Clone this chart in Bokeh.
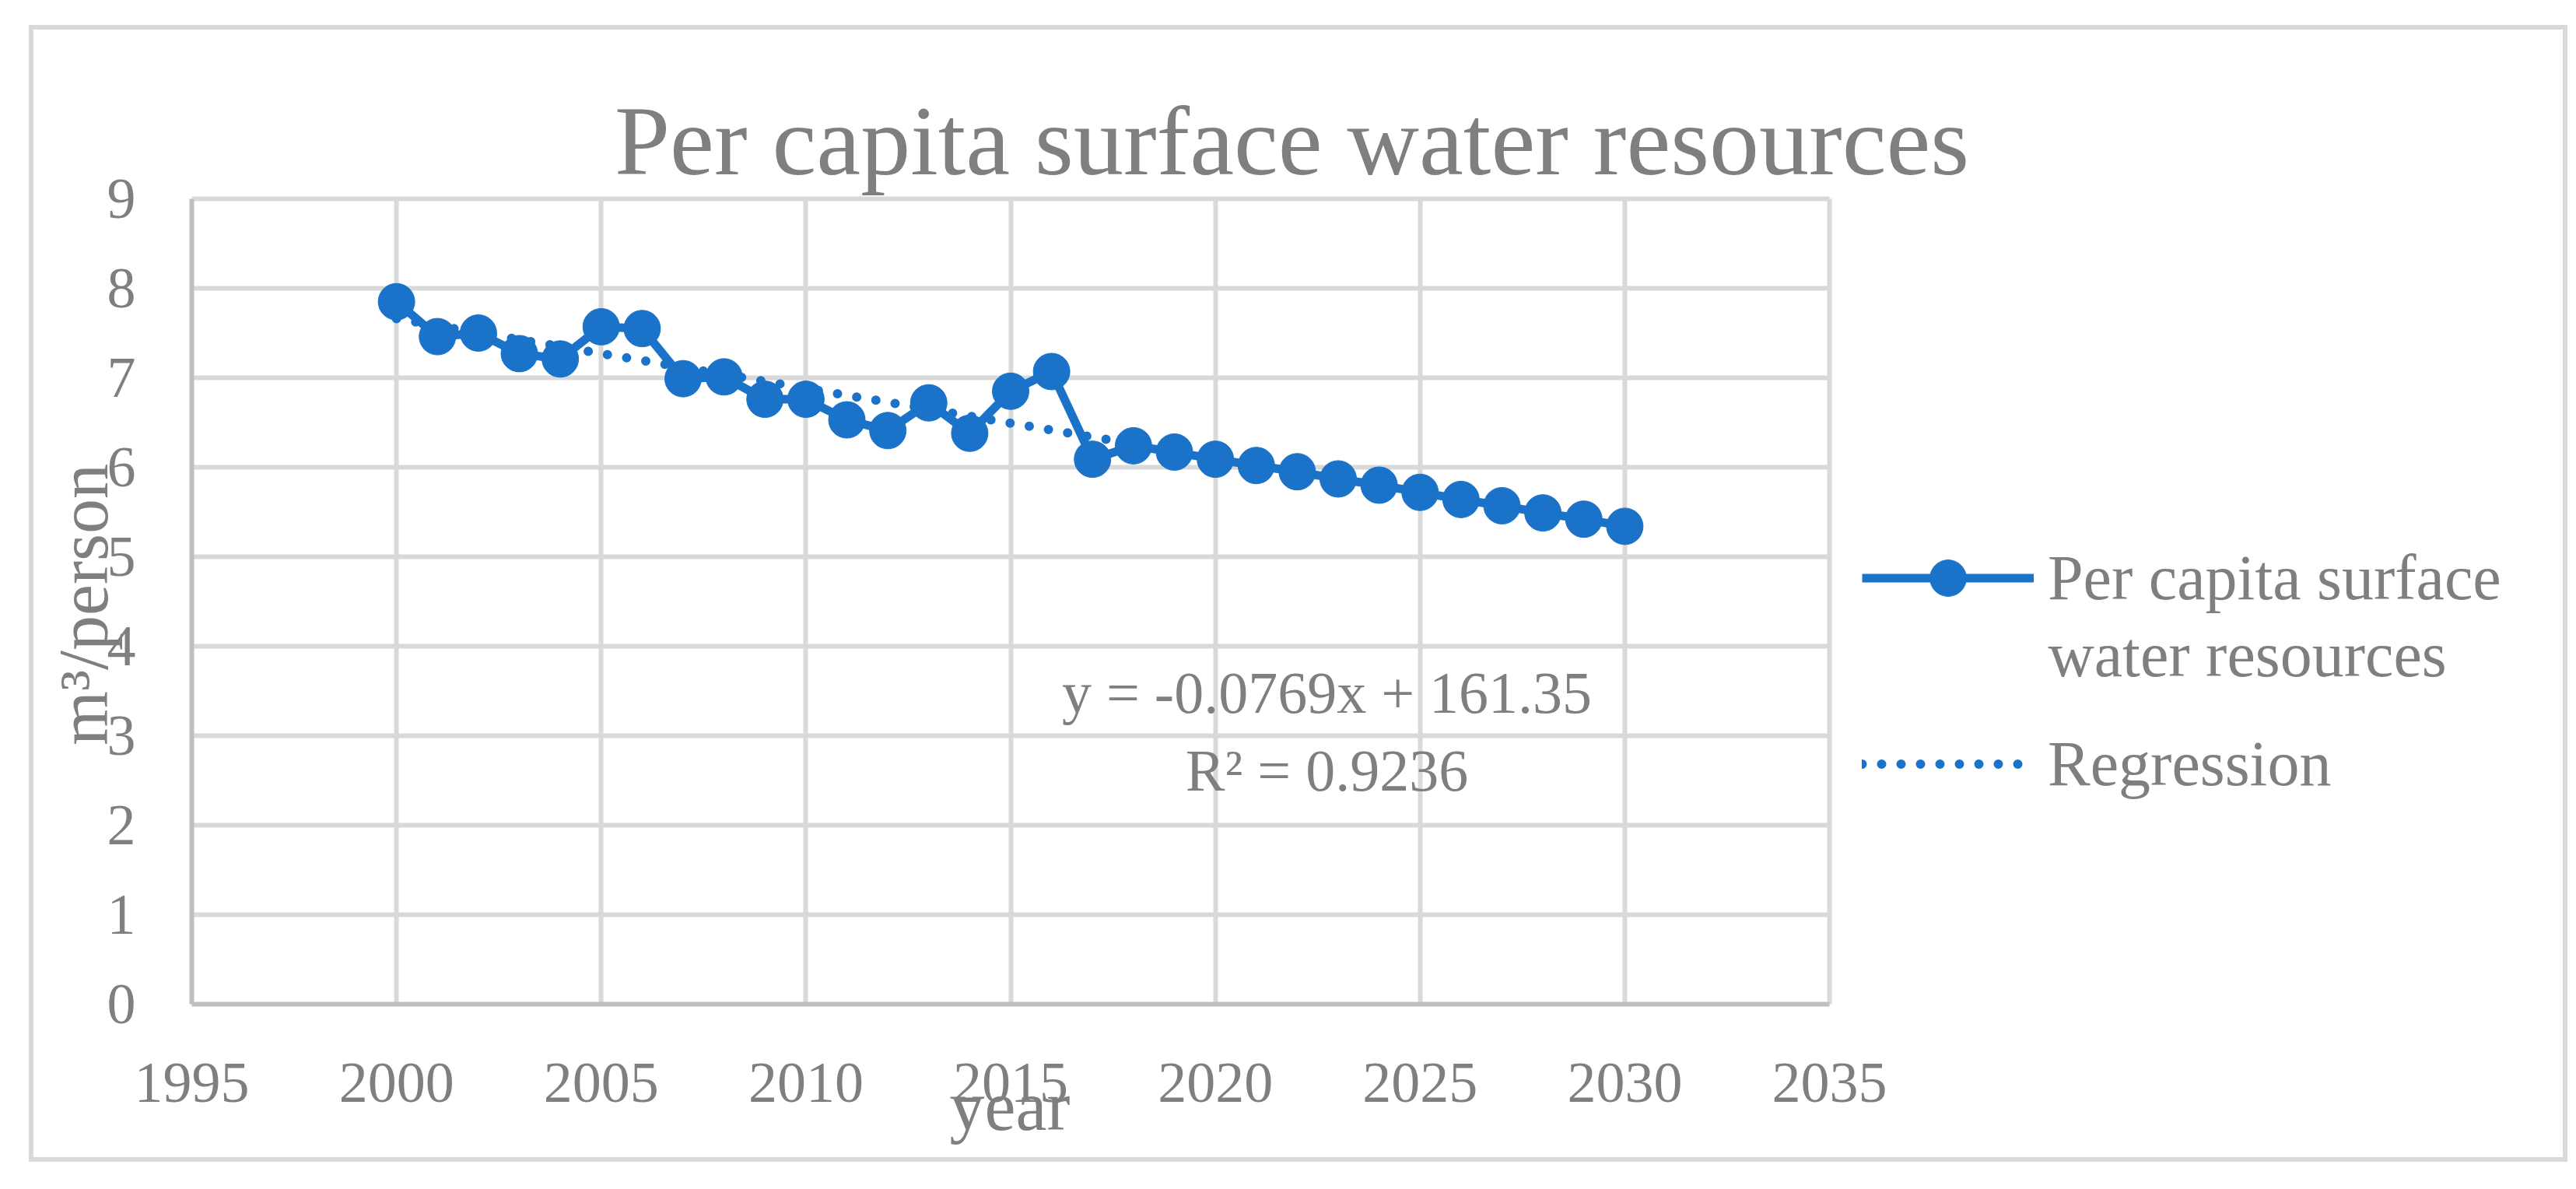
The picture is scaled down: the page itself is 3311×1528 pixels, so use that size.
import numpy as np
from bokeh.plotting import figure
from bokeh.models import Label, Legend, LegendItem, FixedTicker, Range1d
from bokeh.embed import file_html
from bokeh.resources import INLINE

# ---------------- data ----------------
years = [2000, 2001, 2002, 2003, 2004, 2005, 2006, 2007, 2008, 2009, 2010,
         2011, 2012, 2013, 2014, 2015, 2016, 2017, 2018, 2019, 2020,
         2021, 2022, 2023, 2024, 2025, 2026, 2027, 2028, 2029, 2030]
water = [7.85, 7.46, 7.50, 7.27, 7.21, 7.57, 7.55, 6.99, 7.01, 6.76, 6.76,
         6.53, 6.41, 6.72, 6.38, 6.85, 7.07, 6.09, 6.24, 6.17, 6.09,
         6.02, 5.95, 5.87, 5.80, 5.72, 5.64, 5.57, 5.49, 5.42, 5.34]
reg_years = [2000, 2018]
reg_values = [7.66, 6.26]
x_ticks = [1995, 2000, 2005, 2010, 2015, 2020, 2025, 2030, 2035]
y_ticks = [0, 1, 2, 3, 4, 5, 6, 7, 8, 9]

title_text = "Per capita surface water resources"
series_label_1 = "Per capita surface"
series_label_2 = "water resources"
reg_label = "Regression"
eq_text = "y = -0.0769x + 161.35"
r2_text = "R\u00b2 = 0.9236"
x_label = "year"
y_label = "m\u00b3/person"

# ---------------- style / layout ----------------
BLUE = "#1a73c8"
GRAY = "#7f7f7f"
GRID = "#d9d9d9"
AXIS = "#bfbfbf"
FONT = "Liberation Serif"
AXLAB_FS = 90

W, H = 3251, 1449          # canvas (inside the light grey chart border)
FL, FB = 203, 1252         # frame left / bottom edge in canvas px
PXX, PXY = 52.625, 115.0   # px per year, px per unit
X0, X1 = x_ticks[0], x_ticks[-1]
Y0, Y1 = y_ticks[0], y_ticks[-1]


def dx(px):
    return X0 + (px - FL) / PXX


def dy(py):
    return Y0 + (FB - py) / PXY


def mid(baseline_px, fs):
    # vertical middle of a text line from its baseline (canvas px)
    return dy(baseline_px - 0.3 * fs)


# axis labels are centred on the whole frame; pad them with no-break spaces
# so that the visible word sits at the centre of the axis' own bounds
NB = "\u00a0"
space_w = 0.25 * AXLAB_FS
x_shift = ((W - FL) / 2.0) - (X1 - X0) / 2.0 * PXX
y_shift = (FB / 2.0) - (FB - (Y1 - Y0) / 2.0 * PXY)
x_label_text = x_label + NB * int(round(2 * x_shift / space_w))
y_label_text = y_label + NB * int(round(-2 * y_shift / space_w))

p = figure(frame_width=W - FL, frame_height=FB, output_backend="svg",
           toolbar_location=None,
           x_range=Range1d(X0, dx(W)), y_range=Range1d(Y0, dy(0)),
           min_border_left=FL, min_border_right=0,
           min_border_top=0, min_border_bottom=H - FB)
p.margin = (38, 0, 0, 43)
p.styles = {"outline": "6px solid " + GRID}
p.outline_line_color = None
p.background_fill_color = "white"
p.border_fill_color = "white"

p.xaxis.ticker = FixedTicker(ticks=x_ticks)
p.yaxis.ticker = FixedTicker(ticks=y_ticks)
p.xaxis.bounds = (X0, X1)
p.yaxis.bounds = (Y0, Y1)
p.xgrid.ticker = FixedTicker(ticks=x_ticks)
p.ygrid.ticker = FixedTicker(ticks=y_ticks)
p.xgrid.bounds = (X0, X1)
p.ygrid.bounds = (Y0, Y1)
p.xgrid.cross_bounds = (Y0, Y1)
p.ygrid.cross_bounds = (X0, X1)
p.grid.grid_line_color = GRID
p.grid.grid_line_width = 6
p.axis.axis_line_color = AXIS
p.axis.axis_line_width = 6
p.axis.major_tick_line_color = None
p.axis.minor_tick_line_color = None
p.axis.major_tick_in = 0
p.axis.major_tick_out = 0
p.axis.major_label_text_font = FONT
p.axis.major_label_text_font_size = "74px"
p.axis.major_label_text_color = GRAY
p.xaxis.major_label_standoff = 76
p.yaxis.major_label_standoff = 72

p.xaxis.axis_label = x_label_text
p.yaxis.axis_label = y_label_text
p.axis.axis_label_text_font = FONT
p.axis.axis_label_text_font_size = f"{AXLAB_FS}px"
p.axis.axis_label_text_font_style = "normal"
p.axis.axis_label_text_color = GRAY
p.xaxis.axis_label_standoff = -47
p.yaxis.axis_label_standoff = -22

# ---------------- glyphs ----------------
line_r = p.line(years, water, line_color=BLUE, line_width=11)
scat_r = p.scatter(years, water, size=47, fill_color=BLUE, line_color=BLUE)
reg_r = p.line(reg_years, reg_values, line_color=BLUE, line_width=12,
               line_dash="0 25", line_cap="round")

# ---------------- legend ----------------
legend = Legend(items=[LegendItem(label=series_label_1, renderers=[line_r, scat_r]),
                       LegendItem(label=reg_label, renderers=[reg_r])],
                location=(2147, 250), glyph_width=221, glyph_height=117,
                spacing=122, label_standoff=18, padding=0, margin=0,
                border_line_color=None, background_fill_alpha=0,
                label_text_font=FONT, label_text_font_size="82px",
                label_text_color=GRAY)
p.add_layout(legend)

p.add_layout(Label(x=dx(2589), y=mid(828, 82), text=series_label_2, text_font=FONT,
                   text_font_size="82px", text_color=GRAY,
                   text_align="left", text_baseline="middle"))

# ---------------- texts ----------------
p.add_layout(Label(x=dx(1617), y=mid(181, 128), text=title_text, text_font=FONT,
                   text_font_size="128px", text_color=GRAY,
                   text_align="center", text_baseline="middle"))
p.add_layout(Label(x=dx(1662), y=mid(874, 76), text=eq_text, text_font=FONT,
                   text_font_size="76px", text_color=GRAY,
                   text_align="center", text_baseline="middle"))
p.add_layout(Label(x=dx(1662), y=mid(974, 76), text=r2_text, text_font=FONT,
                   text_font_size="76px", text_color=GRAY,
                   text_align="center", text_baseline="middle"))

open("out.html", "w").write(file_html(p, INLINE))
